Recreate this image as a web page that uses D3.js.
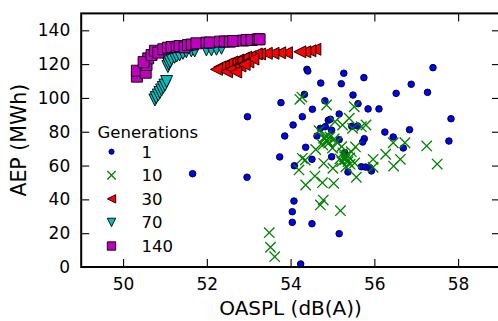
<!DOCTYPE html>
<html>
<head>
<meta charset="utf-8">
<script src="https://cdn.jsdelivr.net/npm/d3@7"></script>
<style>
  html, body { margin: 0; padding: 0; background: #fff; }
  svg { display: block; font-family: "DejaVu Sans", sans-serif; }
</style>
</head>
<body>
<svg id="chart" width="498" height="321"></svg>
<script>
// ---- data ----
const xTicks = [50, 52, 54, 56, 58];
const yTicks = [0, 20, 40, 60, 80, 100, 120, 140];
const legendLabels = ["1", "10", "30", "70", "140"];

const gen1 = [
  [54.39,116.9],[54.41,115.9],[55.27,114.6],[54.72,108.8],[55.21,108.4],[55.75,112.0],
  [57.40,117.9],[56.88,108.1],[56.52,102.7],[57.27,103.3],[54.33,102.1],[55.49,101.7],
  [53.77,97.2],[54.82,98.3],[55.61,96.6],[54.52,93.3],[55.85,93.5],[56.11,93.5],
  [55.16,90.5],[54.28,88.9],[54.90,86.8],[54.95,87.4],[57.83,87.7],[54.06,84.0],
  [54.71,82.0],[54.83,83.0],[54.98,80.9],[55.46,83.2],[55.60,83.4],[56.25,79.8],
  [56.84,81.2],[53.86,77.5],[54.63,77.5],[55.16,75.3],[55.76,75.9],[55.72,73.9],
  [56.45,76.9],[57.78,74.5],[54.36,70.8],[56.69,70.4],[55.29,67.6],[53.74,65.1],
  [54.51,63.7],[54.98,65.2],[54.09,59.9],[55.69,59.3],[55.79,59.1],[55.89,58.7],
  [55.93,56.8],[55.37,56.2],[54.08,39.0],[54.04,32.7],[54.04,26.4],[54.51,25.6],
  [55.16,19.7],[54.24,1.8],[52.97,88.9],[51.66,55.2],[52.96,53.1]
];

const gen10 = [
  [54.22,99.2],[54.27,100.5],[54.86,95.8],[55.52,94.8],[55.40,88.0],[55.06,85.9],
  [55.24,84.0],[55.48,82.0],[55.80,84.0],[55.69,83.0],[54.68,80.6],[54.86,75.1],
  [54.91,73.3],[54.79,76.3],[54.94,76.9],[54.77,72.2],[55.00,70.4],[54.85,77.5],
  [55.04,75.7],[54.88,74.2],[54.82,75.8],[55.22,71.2],[55.45,68.2],[55.29,65.2],
  [55.37,62.3],[55.22,62.3],[55.32,59.3],[55.41,64.5],[55.53,61.5],[55.25,67.4],
  [55.35,66.0],[55.30,63.5],[55.42,60.8],[55.18,64.0],[54.28,64.3],[54.35,63.3],
  [54.20,57.4],[54.58,53.8],[54.36,48.5],[54.76,49.9],[55.03,49.5],[55.57,53.1],
  [54.79,61.3],[55.01,58.4],[55.97,63.7],[55.97,59.0],[56.27,66.7],[56.45,73.5],
  [56.73,73.5],[56.62,63.7],[56.46,59.7],[57.25,71.6],[57.50,60.9],[54.78,39.6],
  [54.71,36.7],[55.19,33.3],[53.49,20.3],[53.52,11.7],[53.62,6.1],[55.10,74.0],
  [55.55,71.0],[54.60,69.5]
];

const gen30 = [
  [54.58,128.8],[54.46,127.9],[54.34,127.3],[54.22,127.3],[53.90,126.7],[53.74,126.7],
  [53.58,126.4],[53.42,126.4],[53.26,126.0],[53.18,126.0],[53.03,124.4],[52.93,124.1],
  [52.87,123.4],[52.74,122.4],[52.71,121.4],[52.60,121.3],[52.55,120.5],[52.48,120.1],
  [52.39,118.5],[52.31,118.3],[52.23,116.9],[52.47,115.5],[52.60,117.1],[52.79,118.9],
  [52.98,121.3],[53.10,123.0],[52.69,115.3],[52.89,119.8]
];

const gen70 = [
  [50.76,98.8],[50.79,100.2],[50.84,101.7],[50.88,103.2],[50.92,104.7],[50.96,106.2],
  [51.00,107.6],[51.04,109.7],[51.07,118.5],[51.09,120.1],[51.12,121.4],[51.16,123.0],
  [51.23,124.0],[51.28,124.8],[51.35,125.4],[51.43,126.4],[51.51,127.3],[51.63,127.8],
  [51.71,127.8],[51.99,128.4],[52.11,128.4],[52.23,128.8],[52.35,129.4]
];

const gen140 = [
  [50.33,112.6],[50.33,116.1],[50.54,114.9],[50.56,119.5],[50.60,123.4],[50.49,121.2],
  [50.68,125.4],[50.76,127.9],[50.84,126.8],[50.96,128.8],[51.07,129.7],[51.16,130.1],
  [51.28,130.3],[51.35,130.7],[51.47,129.9],[51.55,131.3],[51.64,131.6],[51.75,132.3],
  [51.99,132.7],[52.07,132.8],[52.31,133.3],[52.43,133.4],[52.55,133.3],[52.63,133.7],
  [52.87,133.9],[52.95,134.3],[53.07,134.3],[53.22,134.7],[53.26,134.7]
];

// ---- layout ----
const svg = d3.select("#chart");
const pL = 81.2, pR = 500, pT = 13.4, pB = 267;
const x = d3.scaleLinear().domain([49, 59]).range([pL, pR]);
const y = d3.scaleLinear().domain([0, 150]).range([pB, pT]);

// marker path generators
const shapes = {
  dot:  r => `M${-r},0A${r},${r} 0 1,0 ${r},0A${r},${r} 0 1,0 ${-r},0Z`,
  x:    r => `M${-r},${-r}L${r},${r}M${-r},${r}L${r},${-r}`,
  tri:  r => `M${-r},0L${r},${-r}L${r},${r}Z`,
  tdown:r => `M${-r},${-r}L${r},${-r}L0,${r}Z`,
  sq:   r => `M${-r},${-r}H${r}V${r}H${-r}Z`
};
const series = [
  {data: gen1,   shape: "dot",   r: 3.3, legR: 2.6, fill: "#0000ff", stroke: "#000", sw: 0.9},
  {data: gen10,  shape: "x",     r: 5.2, legR: 4.2, fill: "none",    stroke: "#008000", sw: 1.3},
  {data: gen30,  shape: "tri",   r: 6.0, legR: 4.2, fill: "#ff0000", stroke: "#000", sw: 0.9},
  {data: gen70,  shape: "tdown", r: 6.0, legR: 4.2, fill: "#00bfbf", stroke: "#000", sw: 0.9},
  {data: gen140, shape: "sq",    r: 5.5, legR: 4.2, fill: "#bf00bf", stroke: "#000", sw: 0.9}
];

svg.append("clipPath").attr("id", "clip").append("rect")
  .attr("x", pL).attr("y", pT).attr("width", pR - pL).attr("height", pB - pT);
const plot = svg.append("g").attr("clip-path", "url(#clip)");

series.forEach(s => {
  plot.append("g").selectAll("path").data(s.data).join("path")
    .attr("transform", d => `translate(${x(d[0])},${y(d[1])})`)
    .attr("d", shapes[s.shape](s.r))
    .attr("fill", s.fill).attr("stroke", s.stroke).attr("stroke-width", s.sw);
});

// ---- axes (inward ticks on all four sides) ----
const tickLen = 8;
const axB = svg.append("g").attr("transform", `translate(0,${pB})`)
  .call(d3.axisBottom(x).tickValues(xTicks).tickSizeInner(-tickLen).tickSizeOuter(0).tickPadding(11));
const axT = svg.append("g").attr("transform", `translate(0,${pT})`)
  .call(d3.axisTop(x).tickValues(xTicks).tickSizeInner(-tickLen).tickSizeOuter(0).tickFormat(""));
const axL = svg.append("g").attr("transform", `translate(${pL},0)`)
  .call(d3.axisLeft(y).tickValues(yTicks).tickSizeInner(-tickLen).tickSizeOuter(0).tickPadding(tickLen + 3));
const axR = svg.append("g").attr("transform", `translate(${pR},0)`)
  .call(d3.axisRight(y).tickValues(yTicks).tickSizeInner(-tickLen).tickSizeOuter(0).tickFormat(""));

[axB, axT, axL, axR].forEach(a => {
  a.select(".domain").remove();
  a.selectAll(".tick line").attr("stroke", "#000").attr("stroke-width", 1.1);
  a.selectAll("text").attr("fill", "#000").attr("font-size", 17)
    .attr("font-family", "DejaVu Sans, sans-serif");
});

// frame
svg.append("rect").attr("x", pL).attr("y", pT)
  .attr("width", pR - pL).attr("height", pB - pT)
  .attr("fill", "none").attr("stroke", "#000").attr("stroke-width", 2);

// axis labels
svg.append("text").attr("x", (pL + pR) / 2).attr("y", 315)
  .attr("text-anchor", "middle").attr("font-size", 20).text("OASPL (dB(A))");
svg.append("text").attr("transform", `translate(26,${(pT + pB) / 2}) rotate(-90)`)
  .attr("text-anchor", "middle").attr("font-size", 20.5).text("AEP (MWh)");

// ---- legend ----
const leg = svg.append("g");
leg.append("text").attr("x", 97.5).attr("y", 138).attr("font-size", 16.5).text("Generations");
const rowY = d3.scalePoint().domain(legendLabels).range([151.7, 246]);
series.forEach((s, i) => {
  const yy = rowY(legendLabels[i]);
  leg.append("path").attr("transform", `translate(111.5,${yy})`)
    .attr("d", shapes[s.shape](s.legR))
    .attr("fill", s.fill).attr("stroke", s.stroke).attr("stroke-width", s.sw);
  leg.append("text").attr("x", 141.5).attr("y", yy).attr("dy", "0.36em")
    .attr("font-size", 16.5).text(legendLabels[i]);
});
</script>
</body>
</html>
